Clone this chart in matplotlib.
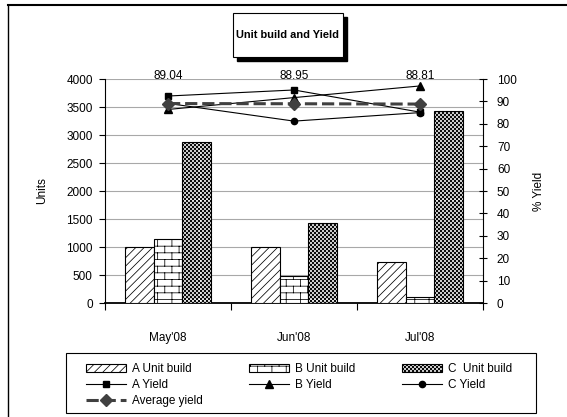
import warnings
import numpy as np
import matplotlib
matplotlib.use("Agg")
import matplotlib.pyplot as plt
from matplotlib import hatch as mhatch
from matplotlib.path import Path
from matplotlib.patches import Rectangle
from matplotlib.lines import Line2D

warnings.filterwarnings("ignore")

months = ["May'08", "Jun'08", "Jul'08"]
a_units = [1000, 1005, 730]
b_units = [1135, 490, 100]
c_units = [2880, 1425, 3435]
a_yield = [92.4, 95.1, 85.2]
b_yield = [86.4, 91.7, 96.9]
c_yield = [89.1, 81.2, 85.0]
avg_yield = [89.04, 88.95, 88.81]


# brick wall pattern ('b') and fine checkerboard ('k') as extra hatch types
class BrickHatch(mhatch.HatchPatternBase):
    def __init__(self, hatch, density):
        self.rows = 15 if 'b' in hatch else 0
        self.per_row = 7
        self.num_vertices = self.rows * 2 + self.rows * self.per_row * 2

    def set_vertices_and_codes(self, vertices, codes):
        off = 0.005
        i = 0
        for r in range(self.rows):
            y0 = r / self.rows + off
            y1 = (r + 1) / self.rows + off
            vertices[i] = (0, y0); vertices[i + 1] = (1, y0)
            codes[i] = Path.MOVETO; codes[i + 1] = Path.LINETO
            i += 2
            shift = 0.5 * (r % 2)
            for k in range(self.per_row):
                x = (k + shift) / self.per_row + off
                vertices[i] = (x, y0); vertices[i + 1] = (x, y1)
                codes[i] = Path.MOVETO; codes[i + 1] = Path.LINETO
                i += 2


class CheckerHatch(mhatch.HatchPatternBase):
    def __init__(self, hatch, density):
        self.n = 50 if 'k' in hatch else 0
        self.cells = [(i, j) for i in range(self.n) for j in range(self.n)
                      if (i + j) % 2 == 0]
        self.num_vertices = len(self.cells) * 5

    def set_vertices_and_codes(self, vertices, codes):
        c = 1.0 / max(self.n, 1)
        s = c * 0.72
        m = (c - s) / 2
        for n, (i, j) in enumerate(self.cells):
            x0, y0 = i * c + m, j * c + m
            vertices[n * 5:n * 5 + 5] = [(x0, y0), (x0 + s, y0), (x0 + s, y0 + s),
                                         (x0, y0 + s), (x0, y0)]
            codes[n * 5:n * 5 + 5] = [Path.MOVETO, Path.LINETO, Path.LINETO,
                                      Path.LINETO, Path.CLOSEPOLY]


mhatch._hatch_types.append(BrickHatch)
mhatch._hatch_types.append(CheckerHatch)

plt.rcParams['font.family'] = ['Liberation Sans', 'DejaVu Sans']
plt.rcParams['font.size'] = 8.5
plt.rcParams['hatch.linewidth'] = 0.55

W, H = 567, 417
fig = plt.figure(figsize=(W / 100, H / 100), dpi=100)
ax = fig.add_axes([105 / W, 1 - 303 / H, 378 / W, 224 / H])

x = np.arange(len(months))
w = 0.227
bar_kw = dict(facecolor='white', edgecolor='black', linewidth=0.8, zorder=3)
ba = ax.bar(x - w, a_units, w, hatch='////', label='A Unit build', **bar_kw)
bb = ax.bar(x, b_units, w, hatch='b', label='B Unit build', **bar_kw)
bc = ax.bar(x + w, c_units, w, hatch='k', label='C  Unit build', **bar_kw)

ax.set_xlim(-0.5, 2.5)
ax.set_ylim(0, 4000)
ax.set_yticks(np.arange(0, 4001, 500))
ax.yaxis.grid(True, color='#a8a8a8', linewidth=0.8)
ax.set_axisbelow(True)
ax.set_xticks(x)
ax.set_xticklabels(months)
ax.set_xticks([-0.5, 0.5, 1.5, 2.5], minor=True)
ax.tick_params(axis='x', which='major', length=0, pad=21)
ax.tick_params(axis='x', which='minor', length=5, width=0.8, direction='out')
ax.tick_params(axis='y', length=4.3, width=0.8, direction='out', pad=4.5)
for s in ['top', 'right']:
    ax.spines[s].set_visible(False)
ax.spines['left'].set_linewidth(0.8)
ax.spines['bottom'].set_linewidth(1.3)
ax.set_ylabel('Units', labelpad=13)

ax2 = ax.twinx()
ax2.set_ylim(0, 100)
ax2.set_yticks(np.arange(0, 101, 10))
ax2.tick_params(axis='y', length=6, width=0.8, direction='inout', pad=7)
for s in ['top', 'left', 'bottom']:
    ax2.spines[s].set_visible(False)
ax2.spines['right'].set_linewidth(0.8)
ax2.set_ylabel('% Yield', labelpad=12)

la, = ax2.plot(x, a_yield, color='black', lw=0.8, marker='s', ms=5, label='A Yield', zorder=4)
lb, = ax2.plot(x, b_yield, color='black', lw=0.8, marker='^', ms=5.5, label='B Yield', zorder=4)
lc, = ax2.plot(x, c_yield, color='black', lw=0.8, marker='o', ms=4.5, label='C Yield', zorder=4)
lav, = ax2.plot(x, avg_yield, color='#404040', lw=2.2, dashes=(4, 1.6), marker='D',
                ms=6.5, label='Average yield', zorder=5)

for xi, v in zip(x, avg_yield):
    ax2.annotate(f"{v:.2f}", xy=(xi, 100), xytext=(0, 2.5), textcoords='offset points',
                 ha='center', va='center', fontsize=8.5)

# title box with drop shadow
tx0, ty0, tw, th = 233, 13, 110, 44
fig.add_artist(Rectangle(((tx0 + 4) / W, 1 - (ty0 + th + 4) / H), tw / W, th / H,
                         transform=fig.transFigure, facecolor='black', edgecolor='black'))
fig.add_artist(Rectangle((tx0 / W, 1 - (ty0 + th) / H), tw / W, th / H,
                         transform=fig.transFigure, facecolor='white', edgecolor='black', lw=0.8))
fig.text((tx0 + tw / 2) / W, 1 - (ty0 + th / 2) / H, 'Unit build and Yield',
         ha='center', va='center', fontsize=7.9, fontweight='bold')

# chart area border
fig.add_artist(Line2D([7.5 / W, 7.5 / W], [0, 1 - 4.5 / H], transform=fig.transFigure,
                      color='black', lw=1))
fig.add_artist(Line2D([7.5 / W, 1], [1 - 4.5 / H, 1 - 4.5 / H], transform=fig.transFigure,
                      color='black', lw=1.5))

# legend box
fig.add_artist(Rectangle((66 / W, 1 - 413 / H), 470 / W, 60 / H, transform=fig.transFigure,
                         facecolor='white', edgecolor='black', lw=0.8))
handles = [ba, la, lav, bb, lb, bc, lc]
fig.legend(handles, [h.get_label() for h in handles], ncol=3, mode='expand',
           loc='upper left', bbox_to_anchor=(86 / W, 1 - 410 / H, 426 / W, 47 / H),
           frameon=False, borderpad=0, borderaxespad=0, handlelength=3.4,
           handletextpad=0.5, labelspacing=0.35, fontsize=8.5)

fig.savefig('out.png', dpi=100)
